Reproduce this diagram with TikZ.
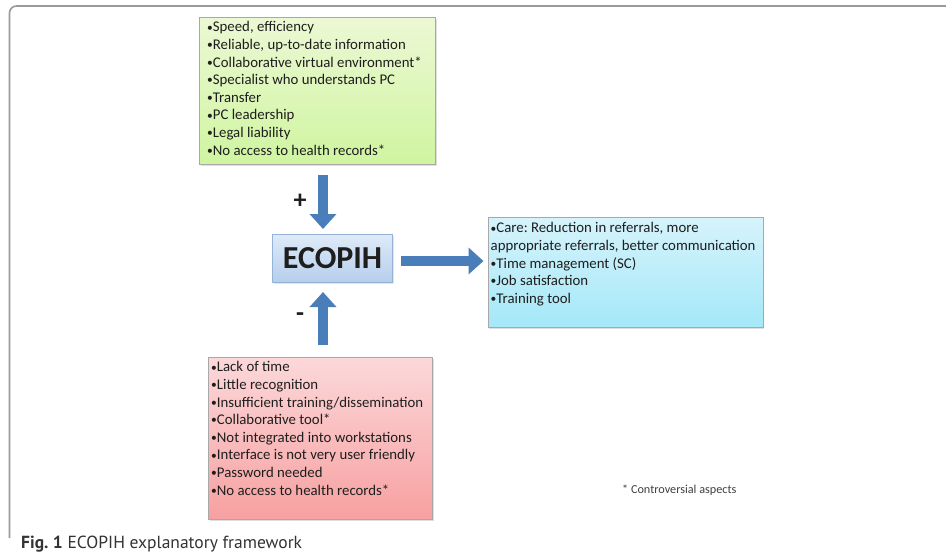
\documentclass[tikz,border=0pt]{standalone}
\usepackage{fontspec}
\setmainfont{Carlito}
\newfontfamily\capfont{PT Sans}
\usetikzlibrary{arrows.meta,shadows}
\definecolor{arrowblue}{HTML}{4A7EBB}
\definecolor{framegray}{HTML}{9A9A9A}
\definecolor{boxgray}{HTML}{A8A8A8}
\definecolor{txt}{HTML}{1E1E1E}
\tikzset{
  listbox/.style={draw=boxgray, line width=1pt, anchor=north west, inner sep=0pt,
    drop shadow={shadow xshift=1.2pt, shadow yshift=-1.2pt, opacity=0.25}},
  bigarrow/.style={draw=arrowblue, line width=10pt,
    -{Triangle[width=26pt,length=15pt]}},
  listtext/.style={font=\fontsize{14.8}{17.6}\selectfont, text=txt},
}
\newcommand{\bul}{{\fontsize{11.5}{0}\selectfont\raisebox{0.8pt}{•}}}
\frenchspacing
\begin{document}
\begin{tikzpicture}[x=1pt,y=-1pt]
\useasboundingbox (0,0) rectangle (946,552);
\fill[white] (0,0) rectangle (946,552);
% frame
\draw[framegray, line width=1.6pt, rounded corners=7pt] (946,6) -- (9.5,6) -- (9.5,538);

% green box
\node[listbox, top color={rgb,255:red,236;green,248;blue,212}, bottom color={rgb,255:red,207;green,245;blue,160},
  minimum width=236pt, minimum height=147pt] (pos) at (199,17) {};
\node[listtext, anchor=north west, inner sep=0pt, align=left] (postext) at (207,21.5)
  {\bul Speed, efficiency\\\bul Reliable, up-to-date information\\\bul Collaborative virtual environment*\\\bul Specialist who understands PC\\\bul Transfer\\\bul PC leadership\\\bul Legal liability\\\bul No access to health records*};

% ECOPIH box
\node[draw={rgb,255:red,149;green,179;blue,215}, line width=1pt, anchor=north west,
  top color={rgb,255:red,222;green,234;blue,248}, bottom color={rgb,255:red,182;green,206;blue,236},
  minimum width=120pt, minimum height=48pt, inner sep=0pt,
  drop shadow={shadow xshift=1.2pt, shadow yshift=-1.2pt, opacity=0.2},
  font=\fontsize{32}{32}\selectfont\bfseries, text=txt] (eco) at (272,234) {ECOPIH};

% blue box
\node[listbox, top color={rgb,255:red,214;green,243;blue,251}, bottom color={rgb,255:red,164;green,232;blue,248},
  minimum width=275pt, minimum height=110pt] (out) at (487.5,217) {};
\node[listtext, anchor=north west, inner sep=0pt, align=left] (outtext) at (490.5,222.5)
  {\bul Care: Reduction in referrals, more\\appropriate referrals, better communication\\\bul Time management (SC)\\\bul Job satisfaction\\\bul Training tool};

% red box
\node[listbox, top color={rgb,255:red,252;green,216;blue,218}, bottom color={rgb,255:red,247;green,160;blue,160},
  minimum width=224pt, minimum height=162pt] (neg) at (208,357) {};
\node[listtext, anchor=north west, inner sep=0pt, align=left] (negtext) at (211,361.5)
  {\bul Lack of time\\\bul Little recognition\\\bul Insufficient training/dissemination\\\bul Collaborative tool*\\\bul Not integrated into workstations\\\bul Interface is not very user friendly\\\bul Password needed\\\bul No access to health records*};

% arrows
\coordinate (ax) at (323,0);
\draw[bigarrow] ([yshift=-10pt]pos.south -| ax) -- ([yshift=5pt]eco.north -| ax);
\draw[bigarrow] ([yshift=12pt]neg.north -| ax) -- ([yshift=-9pt]eco.south -| ax);
\coordinate (ay) at (0,261);
\draw[bigarrow] ([xshift=8pt]eco.east |- ay) -- ([xshift=-4pt]out.west |- ay);

% signs
\node[font=\fontsize{26}{26}\selectfont\bfseries, text=txt, inner sep=0pt] (plus) at (300,201) {+};
\node[font=\fontsize{26}{26}\selectfont\bfseries, text=txt, inner sep=0pt] (minus) at (300,317) {-};

% legend
\node[font=\fontsize{12.2}{14}\selectfont, text=black!75, anchor=west, inner sep=0pt] (legend) at (622,490) {* Controversial aspects};

% caption
\node[font=\capfont\fontsize{17.5}{18}\selectfont, text=black!80, anchor=base west, inner sep=0pt] (caption) at (21,548) {\textbf{Fig. 1} ECOPIH explanatory framework};
\end{tikzpicture}
\end{document}
